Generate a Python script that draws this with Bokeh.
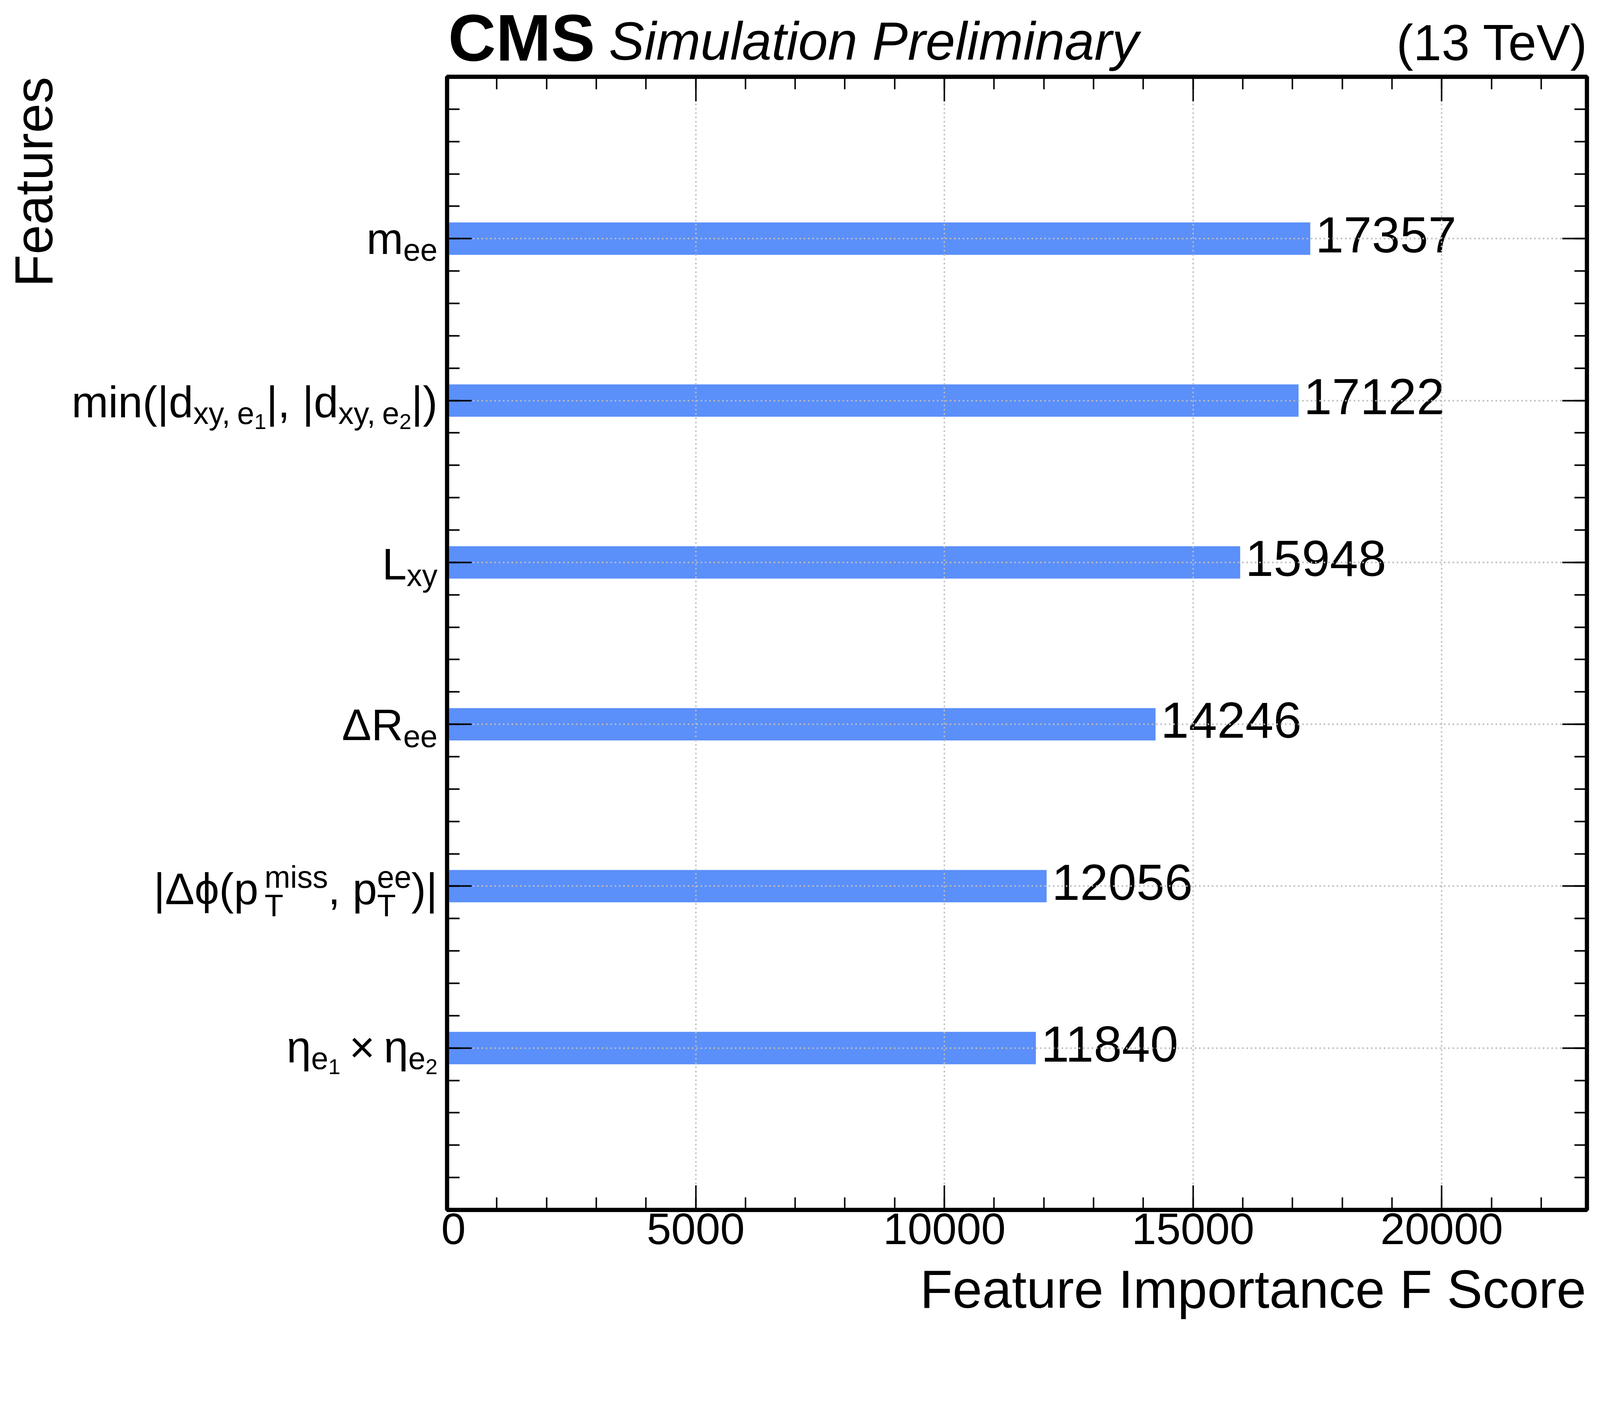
import math
import numpy as np
from bokeh.plotting import figure
from bokeh.layouts import column, row
from bokeh.models import Range1d, FixedTicker, LinearAxis, CustomJSTickFormatter, ColumnDataSource
from bokeh.core.properties import value
from bokeh.embed import file_html
from bokeh.resources import INLINE

# ---------------- data ----------------
features = ["eta_e1 x eta_e2", "|dphi(ptmiss, ptee)|", "dR_ee", "L_xy",
            "min(|dxy_e1|, |dxy_e2|)", "m_ee"]
f_scores = [11840, 12056, 14246, 15948, 17122, 17357]
# tick labels as (text, level) pieces: m = main, s = subscript, ss = sub-subscript,
# st = stacked (superscript, subscript), gap = blank space (width in em of main size)
feature_tick_labels = [
    [("η", "m"), ("e", "s"), ("1", "ss"), (0.2, "gap"), ("×", "m"), (0.2, "gap"),
     ("η", "m"), ("e", "s"), ("2", "ss")],
    [("|Δϕ(p", "m"), (("miss", "T"), "st"), (",", "m"), (0.278, "gap"), ("p", "m"),
     (("ee", "T"), "st"), (")|", "m")],
    [("ΔR", "m"), ("ee", "s")],
    [("L", "m"), ("xy", "s")],
    [("min(|d", "m"), ("xy,", "s"), (0.1, "gap"), ("e", "s"), ("1", "ss"), ("|,", "m"),
     (0.278, "gap"), ("|d", "m"), ("xy,", "s"), (0.1, "gap"), ("e", "s"), ("2", "ss"), ("|)", "m")],
    [("m", "m"), ("ee", "s")],
]
x_ticks = [0, 5000, 10000, 15000, 20000]
x_max = 22920
x_title = "Feature Importance F Score"
y_title = "Features"
exp_text, exp_extra, lumi_text = "CMS", "Simulation Preliminary", "(13 TeV)"

# ---------------- layout constants ----------------
S = 1 / 1.063          # page pixels per design pixel (page is shown slightly magnified)


def px(v):
    return v * S


FONT = "Liberation Sans"
EM_MID = 0.3465        # alphabetic baseline -> em-box middle, in em
TOTAL_W = int(round(px(4348)))
TOTAL_H = int(round(px(3590)))
HEAD_H = int(round(px(202)))
FOOT_H = int(round(px(145)))
MID_H = TOTAL_H - HEAD_H - FOOT_H
LEFT_W = int(round(px(1200)))
MAIN_W = TOTAL_W - LEFT_W
PAD_T = 6
PAD_L = int(round(px(16)))
PAD_R = int(round(px(30)))
FRAME_H = int(round(px(3082.5)))
PAD_B = MID_H - PAD_T - FRAME_H
FRAME_LEFT = LEFT_W + PAD_L
FRAME_RIGHT = TOTAL_W - PAD_R

xr = Range1d(0, x_max)
yr = Range1d(-1, len(features))


def mid(baseline, size):
    """anchor (y down) of a middle-baselined text whose alphabetic baseline is at `baseline`"""
    return baseline - EM_MID * size


def blank(width, height, x_range, y_range, **kw):
    f = figure(width=width, height=height, x_range=x_range, y_range=y_range,
               output_backend="svg", toolbar_location=None,
               x_axis_type=None, y_axis_type=None, background_fill_color="white",
               border_fill_color="white", **kw)
    f.outline_line_color = None
    return f


# ---------------- main plot ----------------
p = figure(width=MAIN_W, height=MID_H, x_range=xr, y_range=yr,
           output_backend="svg", toolbar_location=None,
           min_border_left=PAD_L, min_border_right=PAD_R,
           min_border_top=PAD_T, min_border_bottom=PAD_B,
           background_fill_color="white", border_fill_color="white")
p.outline_line_color = "black"
p.outline_line_width = px(11)

xt = FixedTicker(ticks=x_ticks, minor_ticks=[float(v) for v in np.arange(0, x_max, 1000)])
yt = FixedTicker(ticks=list(range(len(features))),
                 minor_ticks=[float(round(v, 4)) for v in np.arange(-1, len(features) + 1e-6, 0.2)])

p.add_layout(LinearAxis(), "above")
p.add_layout(LinearAxis(), "right")
for ax in p.xaxis:
    ax.ticker = xt
for ax in p.yaxis:
    ax.ticker = yt

empty_fmt = CustomJSTickFormatter(code="return ''")
for ax in list(p.xaxis) + list(p.yaxis):
    ax.level = "annotation"
    ax.axis_line_color = "black"
    ax.axis_line_width = px(11)
    ax.major_tick_in = int(round(px(67)))
    ax.major_tick_out = 0
    ax.minor_tick_in = int(round(px(34)))
    ax.minor_tick_out = 0
    ax.major_tick_line_width = px(4)
    ax.minor_tick_line_width = px(4)
    ax.major_tick_line_color = "black"
    ax.minor_tick_line_color = "black"
    ax.formatter = empty_fmt
    ax.major_label_text_font_size = "1px"
    ax.major_label_standoff = 0

TICK_SIZE = px(120)
bottom = p.below[0]
bottom.formatter = CustomJSTickFormatter(code="return tick.toFixed(0)")
bottom.major_label_text_font = FONT
bottom.major_label_text_font_size = f"{TICK_SIZE:.1f}px"
bottom.major_label_text_color = "black"
bottom.major_label_standoff = int(round(px(10)))

p.xgrid.ticker = FixedTicker(ticks=[t for t in x_ticks if t > 0])
p.ygrid.ticker = FixedTicker(ticks=list(range(len(features))))
for g in list(p.xgrid) + list(p.ygrid):
    g.grid_line_color = "#bdbdbd"
    g.grid_line_width = px(4)
    g.grid_line_dash = "4 7"
    g.level = "guide"

ypos = list(range(len(features)))
p.hbar(y=ypos, left=0, right=f_scores, height=0.2, fill_color="#5B8FF9", line_color=None)

VAL_SIZE = px(138)
p.text(x=f_scores, y=ypos, text=[str(v) for v in f_scores], x_offset=px(14),
       y_offset=mid(px(37), VAL_SIZE),
       text_font=value(FONT), text_font_size=value(f"{VAL_SIZE:.1f}px"), text_color="black",
       text_align=value("left"), text_baseline=value("middle"))

# ---------------- y tick labels (left panel) ----------------
left = blank(LEFT_W, MID_H, Range1d(0, LEFT_W), yr,
             min_border_left=0, min_border_right=0, min_border_top=PAD_T, min_border_bottom=PAD_B)

ADV = {" ": 278, "(": 333, ")": 333, ",": 278, "|": 260, "×": 584, "Δ": 668, "ϕ": 700,
       "η": 556, "L": 556, "R": 722, "T": 611, "d": 556, "e": 556, "i": 222, "m": 833,
       "n": 556, "p": 556, "s": 500, "x": 500, "y": 500, "1": 556, "2": 556}
SIZE = {"m": px(120), "s": px(84), "ss": px(59)}
DROP = {"m": 0, "s": px(18), "ss": px(32)}
SUP_RISE, STACK_SUB_DROP = px(45), px(32.5)
BASE_BELOW = [px(v) for v in (39.5, 49, 43.5, 46, 46, 42)]
RIGHT_EDGE = FRAME_LEFT - px(26)


def adv(text, size):
    return sum(ADV.get(ch, 556) for ch in text) * size / 1000.0


def piece_width(txt, lvl):
    if lvl == "gap":
        return txt * SIZE["m"]
    if lvl == "st":
        return max(adv(txt[0], SIZE["s"]), adv(txt[1], SIZE["s"]))
    return adv(txt, SIZE[lvl])


tl = dict(x=[], y=[], text=[], size=[], yoff=[])


def put(txt, yi, sx, baseline, size):
    tl["x"].append(sx)
    tl["y"].append(yi)
    tl["text"].append(txt)
    tl["size"].append(f"{size:.1f}px")
    tl["yoff"].append(mid(baseline, size))


for yi, pieces in zip(ypos, feature_tick_labels):
    total = sum(piece_width(t, l) for t, l in pieces)
    cx = RIGHT_EDGE - total
    base = BASE_BELOW[yi]
    for t, l in pieces:
        if l == "st":
            put(t[0], yi, cx, base - SUP_RISE, SIZE["s"])
            put(t[1], yi, cx, base + STACK_SUB_DROP, SIZE["s"])
        elif l != "gap":
            put(t, yi, cx, base + DROP[l], SIZE[l])
        cx += piece_width(t, l)

left.text(x="x", y="y", text="text", text_font_size="size", y_offset="yoff",
          source=ColumnDataSource(tl), text_font=value(FONT), text_color="black",
          text_align=value("left"), text_baseline=value("middle"))

TITLE_SIZE = px(145)
left.text(x=[mid(px(142), TITLE_SIZE)], y=[len(features)], text=[y_title], angle=math.pi / 2,
          text_font=value(FONT), text_font_size=value(f"{TITLE_SIZE:.1f}px"), text_color="black",
          text_align=value("right"), text_baseline=value("middle"))

# ---------------- header (pixel coordinates, y from top) ----------------
head = blank(TOTAL_W, HEAD_H, Range1d(0, TOTAL_W), Range1d(HEAD_H, 0),
             min_border_left=0, min_border_right=0, min_border_top=0, min_border_bottom=0)
CMS_SIZE, EXTRA_SIZE, LUMI_SIZE = px(180), px(145), px(138)
head.text(x=[FRAME_LEFT + px(3)], y=[mid(px(164), CMS_SIZE)], text=[exp_text],
          text_font=value(FONT), text_font_size=value(f"{CMS_SIZE:.1f}px"), text_font_style=value("bold"),
          text_color="black", text_align=value("left"), text_baseline=value("middle"))
head.text(x=[FRAME_LEFT + px(440)], y=[mid(px(162), EXTRA_SIZE)], text=[exp_extra],
          text_font=value(FONT), text_font_size=value(f"{EXTRA_SIZE:.1f}px"), text_font_style=value("italic"),
          text_color="black", text_align=value("left"), text_baseline=value("middle"))
head.text(x=[FRAME_RIGHT + px(3)], y=[mid(px(163), LUMI_SIZE)], text=[lumi_text],
          text_font=value(FONT), text_font_size=value(f"{LUMI_SIZE:.1f}px"),
          text_color="black", text_align=value("right"), text_baseline=value("middle"))

# ---------------- footer (x title) ----------------
foot = blank(TOTAL_W, FOOT_H, Range1d(0, TOTAL_W), Range1d(FOOT_H, 0),
             min_border_left=0, min_border_right=0, min_border_top=0, min_border_bottom=0)
foot.text(x=[FRAME_RIGHT - px(2)], y=[mid(px(112), TITLE_SIZE)], text=[x_title],
          text_font=value(FONT), text_font_size=value(f"{TITLE_SIZE:.1f}px"),
          text_color="black", text_align=value("right"), text_baseline=value("middle"))

layout = column(head, row(left, p), foot)
open("out.html", "w").write(file_html(layout, INLINE))
